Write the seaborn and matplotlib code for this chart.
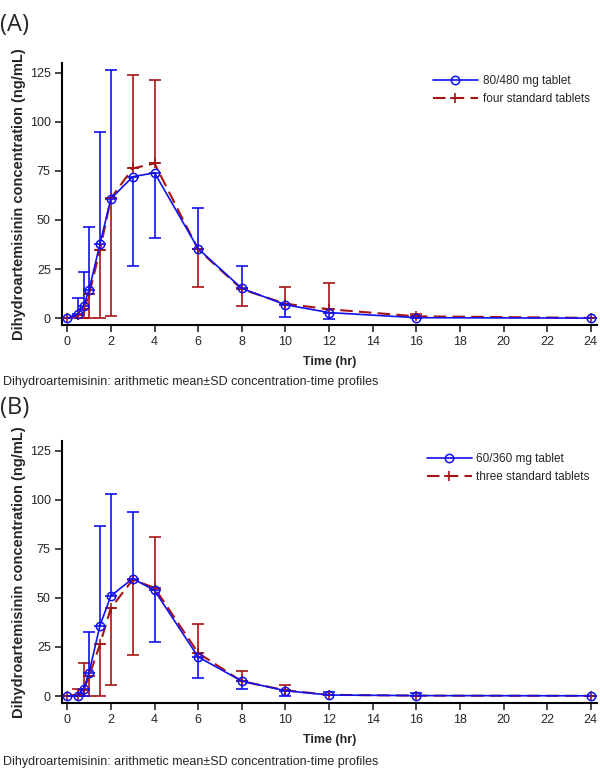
import numpy as np
import pandas as pd
import matplotlib
matplotlib.use("Agg")
import matplotlib.pyplot as plt
import seaborn as sns

sns.set_theme(style="ticks")
plt.rcParams['font.family'] = ['Liberation Sans', 'DejaVu Sans']

# sampling times (hr)
times = [0, 0.5, 0.75, 1, 1.5, 2, 3, 4, 6, 8, 10, 12, 16, 24]
x_ticks = list(range(0, 26, 2))
y_ticks = [0, 25, 50, 75, 100, 125]

# panel A: 80/480 mg tablet vs four standard tablets
a_labels = ['80/480 mg tablet', 'four standard tablets']
a_new = [0, 2.2, 6.4, 14.4, 37.9, 60.8, 72.0, 74.0, 35.4, 15.2, 6.9, 2.9, 0.3, 0.1]
a_new_up = [0, 8.0, 17.3, 32.0, 57.1, 65.7, 0, 0, 20.7, 11.6, 0, 0, 0, 0]
a_new_dn = [0, 0, 0, 0, 0, 0, 45.4, 33.0, 0, 0, 6.1, 3.1, 0, 0]
a_std = [0, 1.5, 4.5, 12.2, 34.7, 61.0, 76.2, 78.8, 35.0, 14.8, 7.4, 4.6, 1.0, 0.2]
a_std_up = [0, 0, 0, 0, 0, 0, 47.6, 42.5, 0, 0, 8.5, 13.2, 1.2, 0]
a_std_dn = [0, 1.5, 4.5, 12.2, 34.7, 59.8, 0, 0, 18.9, 8.5, 0, 0, 0, 0]

# panel B: 60/360 mg tablet vs three standard tablets
b_labels = ['60/360 mg tablet', 'three standard tablets']
b_new = [0, 0.2, 3.7, 11.9, 35.9, 51.0, 59.8, 53.8, 19.9, 7.6, 2.7, 0.5, 0.2, 0.1]
b_new_up = [0, 0, 0, 20.7, 50.5, 51.9, 34.1, 0, 0, 0, 0, 1.7, 1.1, 0]
b_new_dn = [0, 0, 3.7, 0, 0, 0, 0, 26.1, 10.7, 4.2, 2.7, 0, 0, 0]
b_std = [0, 0.3, 3.0, 10.0, 26.4, 44.8, 59.2, 55.1, 21.9, 7.5, 2.9, 0.6, 0.2, 0.1]
b_std_up = [0, 3.5, 14.0, 0, 0, 0, 0, 25.8, 15.0, 5.2, 2.9, 0, 0, 0]
b_std_dn = [0, 0, 0, 10.0, 26.4, 39.0, 38.1, 0, 0, 0, 0, 0, 0, 0]

BLUE = '#1010F0'
RED = '#A51515'
caption = 'Dihydroartemisinin: arithmetic mean\u00b1SD concentration-time profiles'


def panel(ax, labels, new, new_up, new_dn, std, std_up, std_dn):
    df_new = pd.DataFrame({'t': times, 'c': new})
    df_std = pd.DataFrame({'t': times, 'c': std})

    ax.errorbar(times, std, yerr=[std_dn, std_up], fmt='none', ecolor=RED,
                elinewidth=1.2, capsize=4.5, capthick=1.2, zorder=2)
    ax.errorbar(times, new, yerr=[new_dn, new_up], fmt='none', ecolor=BLUE,
                elinewidth=1.2, capsize=4.5, capthick=1.2, zorder=2)

    sns.lineplot(data=df_std, x='t', y='c', ax=ax, color=RED, lw=1.5,
                 linestyle=(0, (6, 3)), marker='+', ms=7, mec=RED,
                 mew=1.2, label=labels[1], zorder=3)
    sns.lineplot(data=df_new, x='t', y='c', ax=ax, color=BLUE, lw=1.2,
                 marker='o', ms=6, mfc='none', mec=BLUE, mew=1.1,
                 label=labels[0], zorder=4)

    h, l = ax.get_legend_handles_labels()
    ax.legend([h[1], h[0]], [l[1], l[0]], loc='upper right', frameon=False,
              fontsize=8.5, handlelength=3.8, handletextpad=0.4,
              bbox_to_anchor=(1.0, 0.98), borderaxespad=0.2, labelspacing=0.5)

    ax.set_xlim(-0.25, 24.27)
    ax.set_ylim(-3.4, 130)
    ax.set_xticks(x_ticks)
    ax.set_yticks(y_ticks)
    ax.tick_params(direction='out', length=5, width=1.2, labelsize=9, pad=3)
    for s in ['left', 'bottom']:
        ax.spines[s].set_linewidth(1.5)
        ax.spines[s].set_color('black')
    sns.despine(ax=ax)
    ax.set_xlabel('Time (hr)', fontsize=9, fontweight='bold', labelpad=6)
    ax.set_ylabel('Dihydroartemisinin concentration (ng/mL)', fontsize=10.5,
                  fontweight='bold', labelpad=3)


fig = plt.figure(figsize=(6, 7.71), dpi=100)
ax1 = fig.add_axes([0.103, 0.5785, 0.8915, 0.3402])
ax2 = fig.add_axes([0.103, 0.0886, 0.8915, 0.3398])

panel(ax1, a_labels, a_new, a_new_up, a_new_dn, a_std, a_std_up, a_std_dn)
panel(ax2, b_labels, b_new, b_new_up, b_new_dn, b_std, b_std_up, b_std_dn)

fig.text(0.0, 1 - 25 / 771, '(A)', fontsize=17, family=['Open Sans', 'DejaVu Sans'], va='center')
fig.text(0.0, 1 - 408 / 771, '(B)', fontsize=17, family=['Open Sans', 'DejaVu Sans'], va='center')
fig.text(0.005, 1 - 382 / 771, caption, fontsize=9, va='center')
fig.text(0.005, 1 - 762 / 771, caption, fontsize=9, va='center')

fig.savefig('out.png', dpi=100)
